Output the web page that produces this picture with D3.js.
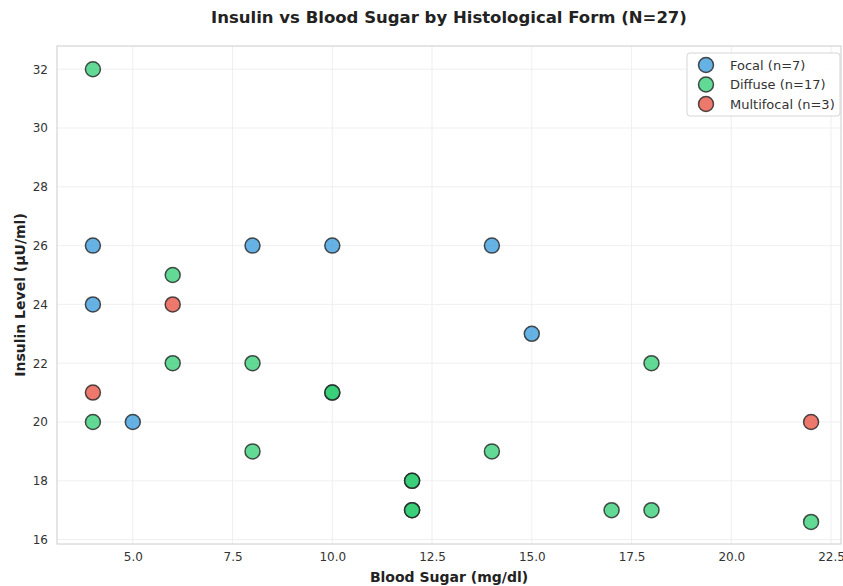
<!DOCTYPE html>
<html>
<head>
<meta charset="utf-8">
<script src="https://cdn.jsdelivr.net/npm/d3@7"></script>
<style>
  body { margin: 0; background: #fff; }
  text { font-family: "DejaVu Sans", sans-serif; }
</style>
</head>
<body>
<div id="chart"></div>
<script>
// Data points per histological form: [blood sugar, insulin]
const focal = [[4, 26], [4, 24], [5, 20], [8, 26], [10, 26], [14, 26], [15, 23]];
const diffuse = [[4, 32], [4, 20], [6, 25], [6, 22], [8, 22], [8, 19], [10, 21], [10, 21],
  [12, 18], [12, 18], [12, 17], [12, 17], [14, 19], [17, 17], [18, 17], [18, 22], [22, 16.6]];
const multifocal = [[4, 21], [6, 24], [22, 20]];
const seriesNames = ["Focal (n=7)", "Diffuse (n=17)", "Multifocal (n=3)"];
const seriesColors = ["#3498db", "#2ecc71", "#e74c3c"];
const xTicks = [5, 7.5, 10, 12.5, 15, 17.5, 20, 22.5];
const yTicks = [16, 18, 20, 22, 24, 26, 28, 30, 32];

const series = [focal, diffuse, multifocal];

const W = 843, H = 586;
const margin = { top: 46, right: 2, bottom: 42, left: 57 };
const width = W - margin.left - margin.right,
      height = H - margin.top - margin.bottom;

const svg = d3.select("#chart").append("svg")
    .attr("width", W)
    .attr("height", H);

const g = svg.append("g")
    .attr("transform", `translate(${margin.left},${margin.top})`);

const x = d3.scaleLinear().domain([3.1, 22.75]).range([0, width]);
const y = d3.scaleLinear().domain([15.85, 32.79]).range([height, 0]);

// grid
g.append("g").selectAll("line").data(xTicks).enter().append("line")
    .attr("x1", d => x(d)).attr("x2", d => x(d))
    .attr("y1", 0).attr("y2", height)
    .attr("stroke", "#ebebeb").attr("stroke-width", 0.8);
g.append("g").selectAll("line").data(yTicks).enter().append("line")
    .attr("y1", d => y(d)).attr("y2", d => y(d))
    .attr("x1", 0).attr("x2", width)
    .attr("stroke", "#ebebeb").attr("stroke-width", 0.8);

// frame
g.append("rect")
    .attr("width", width).attr("height", height)
    .attr("fill", "none").attr("stroke", "#cccccc").attr("stroke-width", 1);

// axes
const xAxis = g.append("g")
    .attr("transform", `translate(0,${height})`)
    .call(d3.axisBottom(x).tickValues(xTicks).tickFormat(d3.format(".1f")).tickSize(0).tickPadding(8));
const yAxis = g.append("g")
    .call(d3.axisLeft(y).tickValues(yTicks).tickSize(0).tickPadding(9));
[xAxis, yAxis].forEach(a => {
  a.select(".domain").remove();
  a.selectAll("text").attr("font-size", 12).attr("fill", "#333")
    .attr("font-family", "DejaVu Sans, sans-serif");
});

// points
series.forEach((pts, i) => {
  g.append("g").selectAll("circle").data(pts).enter().append("circle")
      .attr("cx", d => x(d[0]))
      .attr("cy", d => y(d[1]))
      .attr("r", 7.5)
      .attr("fill", seriesColors[i])
      .attr("fill-opacity", 0.75)
      .attr("stroke", "#222")
      .attr("stroke-opacity", 0.8)
      .attr("stroke-width", 1.5);
});

// title & labels
svg.append("text")
    .attr("x", margin.left + width / 2).attr("y", 23)
    .attr("text-anchor", "middle")
    .attr("font-size", 16.5).attr("font-weight", "bold").attr("fill", "#222")
    .text("Insulin vs Blood Sugar by Histological Form (N=27)");

svg.append("text")
    .attr("x", margin.left + width / 2).attr("y", 582)
    .attr("text-anchor", "middle")
    .attr("font-size", 14).attr("font-weight", "bold").attr("fill", "#222")
    .text("Blood Sugar (mg/dl)");

svg.append("text")
    .attr("transform", `translate(25,${margin.top + height / 2}) rotate(-90)`)
    .attr("text-anchor", "middle")
    .attr("font-size", 14).attr("font-weight", "bold").attr("fill", "#222")
    .text("Insulin Level (µU/ml)");

// legend
const legend = svg.append("g").attr("transform", "translate(687,53)");
legend.append("rect")
    .attr("width", 153).attr("height", 63).attr("rx", 3)
    .attr("fill", "#fff").attr("fill-opacity", 0.9)
    .attr("stroke", "#d6d6d6");
const item = legend.selectAll("g.item").data(seriesNames).enter().append("g")
    .attr("class", "item")
    .attr("transform", (d, i) => `translate(0,${12 + i * 19.5})`);
item.append("circle")
    .attr("cx", 19).attr("cy", 0).attr("r", 7.5)
    .attr("fill", (d, i) => seriesColors[i]).attr("fill-opacity", 0.75)
    .attr("stroke", "#222").attr("stroke-opacity", 0.8).attr("stroke-width", 1.5);
item.append("text")
    .attr("x", 43).attr("y", 0).attr("dy", "0.35em")
    .attr("font-size", 13).attr("fill", "#333")
    .text(d => d);
</script>
</body>
</html>
